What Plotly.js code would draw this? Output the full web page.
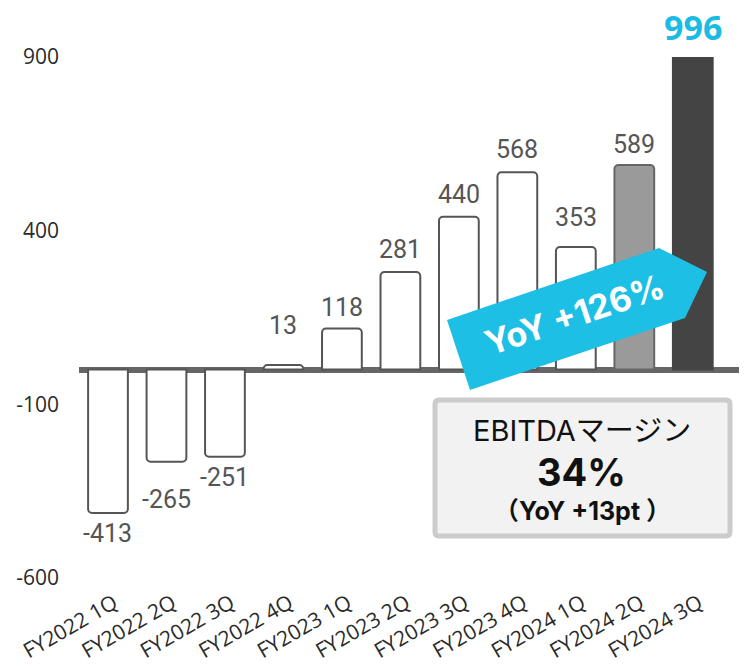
<!DOCTYPE html>
<html>
<head>
<meta charset="utf-8">
<script src="https://cdn.plot.ly/plotly-3.0.1.min.js"></script>
<style>html,body{margin:0;padding:0;background:#fff;}#chart{width:748px;height:667px;}</style>
</head>
<body>
<div id="chart"></div>
<script>
// ---- data ----
const categories = ['FY2022 1Q','FY2022 2Q','FY2022 3Q','FY2022 4Q','FY2023 1Q','FY2023 2Q','FY2023 3Q','FY2023 4Q','FY2024 1Q','FY2024 2Q','FY2024 3Q'];
const values = [-413, -265, -251, 13, 118, 281, 440, 568, 353, 589, 996];
const yTickVals = [-600, -100, 400, 900];
const yTickText = ['-600', '-100', '400', '900'];
const yoyText = 'YoY +126%';
const marginTitle = 'EBITDAマージン';
const marginValue = '34%';
const marginYoY = '（YoY +13pt ）';

// ---- styles / layout helpers ----
const W = 748, H = 667, MT = 57, MB = 89;
const PH = H - MT - MB;
const px = x => x / W;
const py = y => (H - MB - y) / PH;
const yRange = [-600, 900];
const fills = values.map((v, i) => i === values.length - 1 ? '#444444' : (i === values.length - 2 ? '#9a9a9a' : '#ffffff'));
const lines = values.map((v, i) => i === values.length - 1 ? '#444444' : (i === values.length - 2 ? '#666666' : '#555555'));
const labelGap = [10, 27, 10, 29, 11, 12, 12, 12, 19, 10, 11];

const bars = {
  type: 'bar',
  x: categories,
  y: values,
  width: 0.68,
  marker: {color: fills, line: {color: lines, width: 2}, cornerradius: 4},
  hoverinfo: 'skip'
};

const annotations = values.map((v, i) => {
  const last = i === values.length - 1;
  return {
    xref: 'x', yref: 'y',
    x: categories[i],
    y: Math.min(v, yRange[1]),
    text: String(v),
    showarrow: false,
    xanchor: 'center',
    yanchor: v >= 0 ? 'bottom' : 'top',
    yshift: v >= 0 ? labelGap[i] - 6 : -(labelGap[i] - 6),
    font: last ? {family: 'Open Sans, sans-serif', size: 34, color: '#1bbce3', weight: 700}
               : {family: 'Roboto, sans-serif', size: 25, color: '#555555'}
  };
});

function boxText(text, x, y, font) {
  return {xref: 'paper', yref: 'paper', x: px(x), y: py(y), xanchor: 'center', yanchor: 'middle',
          text: text, showarrow: false, font: font};
}
// banner text
const banner = boxText(yoyText, 574, 314, {family: 'Inter, sans-serif', size: 34, color: '#ffffff', weight: 700});
banner.textangle = -18.5;
annotations.push(banner);
// EBITDA box texts
annotations.push(boxText(marginTitle, 582, 431, {family: 'Inter, "Noto Sans CJK JP", sans-serif', size: 29, color: '#111111'}));
annotations.push(boxText(marginValue, 581, 472, {family: 'Inter, sans-serif', size: 38, color: '#111111', weight: 700}));
annotations.push(boxText(marginYoY, 582, 511, {family: 'Inter, "Noto Sans CJK JP", sans-serif', size: 25, color: '#111111', weight: 700}));

const arrowPts = [[447,320],[659,248],[707,272],[685,318],[470,390]];
const arrowPath = 'M' + arrowPts.map(p => px(p[0]) + ',' + py(p[1])).join(' L') + ' Z';

// rounded box outline
function roundRect(x0, y0, x1, y1, r) {
  const P = (x, y) => px(x) + ',' + py(y);
  return 'M' + P(x0 + r, y0) + ' L' + P(x1 - r, y0) + ' Q' + P(x1, y0) + ' ' + P(x1, y0 + r) +
         ' L' + P(x1, y1 - r) + ' Q' + P(x1, y1) + ' ' + P(x1 - r, y1) +
         ' L' + P(x0 + r, y1) + ' Q' + P(x0, y1) + ' ' + P(x0, y1 - r) +
         ' L' + P(x0, y0 + r) + ' Q' + P(x0, y0) + ' ' + P(x0 + r, y0) + ' Z';
}

const shapes = [
  {type: 'path', xref: 'paper', yref: 'paper', path: roundRect(435, 400, 730, 536, 4),
   fillcolor: '#f2f2f2', line: {color: '#cccccc', width: 5}, layer: 'above'},
  {type: 'path', xref: 'paper', yref: 'paper', path: arrowPath,
   fillcolor: '#1ebfe5', line: {width: 0}, layer: 'above'}
];

const layout = {
  width: W, height: H,
  margin: {l: 0, r: 0, t: MT, b: MB, pad: 0},
  paper_bgcolor: '#ffffff', plot_bgcolor: '#ffffff',
  showlegend: false,
  xaxis: {
    type: 'category', domain: [px(78.75), px(739)], range: [-0.5, 10.79],
    tickangle: -30, ticklabelshift: 6, ticklabelstandoff: 8,
    tickfont: {family: 'Open Sans, sans-serif', size: 21, color: '#2a2a2a'},
    showgrid: false, zeroline: false, showline: false, ticks: '',
    anchor: 'y', fixedrange: true
  },
  yaxis: {
    range: yRange, anchor: 'free', position: px(59),
    tickmode: 'array', tickvals: yTickVals, ticktext: yTickText,
    ticks: '',
    tickfont: {family: 'Open Sans, sans-serif', size: 21, color: '#2a2a2a'},
    showgrid: false, showline: false,
    zeroline: true, zerolinecolor: '#666666', zerolinewidth: 6,
    fixedrange: true
  },
  annotations: annotations,
  shapes: shapes
};

Plotly.newPlot('chart', [bars], layout, {displayModeBar: false, staticPlot: true});
</script>
</body>
</html>
